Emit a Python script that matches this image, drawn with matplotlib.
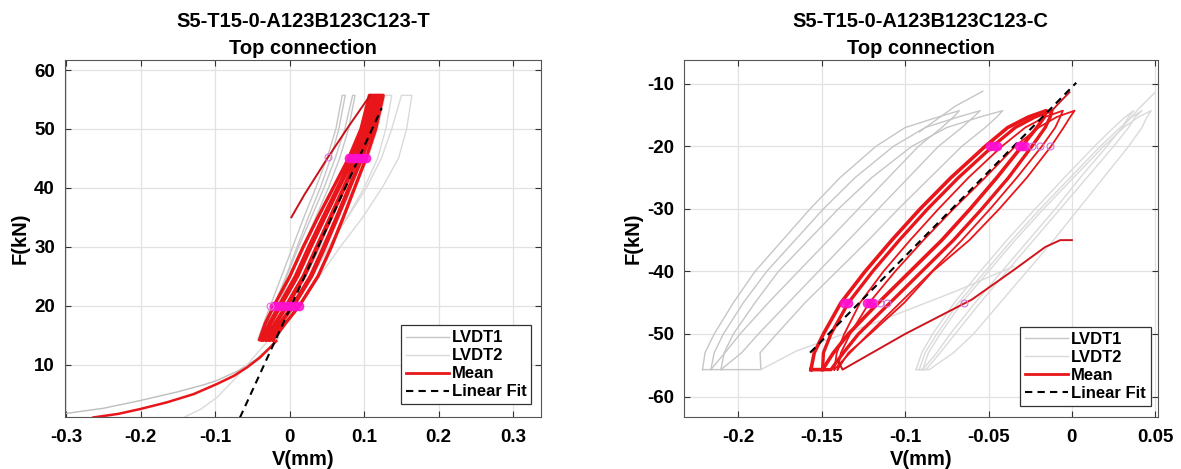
import numpy as np
import matplotlib
matplotlib.use("Agg")
import matplotlib.pyplot as plt
from matplotlib.lines import Line2D

plt.rcParams['font.family'] = ['Liberation Sans', 'DejaVu Sans']
plt.rcParams['font.weight'] = 'bold'
plt.rcParams['axes.labelweight'] = 'bold'
plt.rcParams['axes.titleweight'] = 'bold'

# ---------------- tension test (left panel) ----------------
title_T = "S5-T15-0-A123B123C123-T\nTop connection"
F_T = [14.2, 17, 20, 25, 30, 35, 40, 45, 50, 55.7]

# mean hysteresis loops: rising and returning branch displacement at each force level
mean_T_up = [
    [-0.037, -0.0275, -0.0145, 0.0075, 0.0255, 0.0445, 0.064, 0.0835, 0.0995, 0.1105],
    [-0.032, -0.020, -0.005, 0.018, 0.036, 0.054, 0.072, 0.090, 0.105, 0.1155],
    [-0.0275, -0.0133, 0.0036, 0.0275, 0.0455, 0.0626, 0.0792, 0.0959, 0.110, 0.120],
    [-0.0225, -0.0058, 0.013, 0.038, 0.056, 0.072, 0.0872, 0.1024, 0.1155, 0.1255],
]
mean_T_down = [
    [-0.0405, -0.0328, -0.0212, 0.0002, 0.0182, 0.0379, 0.0584, 0.079, 0.0957, 0.107],
    [-0.0355, -0.0253, -0.0117, 0.0107, 0.0287, 0.0474, 0.0664, 0.0855, 0.1012, 0.112],
    [-0.031, -0.0185, -0.0031, 0.0201, 0.0381, 0.0559, 0.0736, 0.0913, 0.1061, 0.1165],
    [-0.0265, -0.0118, 0.0055, 0.0296, 0.0476, 0.0645, 0.0808, 0.0972, 0.111, 0.121],
]
# initial loading of the mean curve
mean_T_init_V = [-0.2636, -0.23, -0.201, -0.165, -0.129, -0.098, -0.075, -0.0577, -0.04, -0.0264, -0.018]
mean_T_init_F = [1.04, 1.65, 2.46, 3.6, 5.0, 6.7, 8.1, 9.5, 11.2, 12.9, 14.0]
# last reloading branch
mean_T_last_V = [0.0022, 0.02, 0.052, 0.08, 0.108]
mean_T_last_F = [35.0, 38.9, 45.3, 50.6, 55.7]

# LVDT1 loops (left of mean) and its initial loading
lvdt1_T_up = [
    [-0.040, -0.031, -0.021, -0.005, 0.010, 0.025, 0.041, 0.055, 0.066, 0.0745],
    [-0.036, -0.026, -0.016, 0.001, 0.018, 0.035, 0.052, 0.067, 0.079, 0.0877],
]
lvdt1_T_down = [
    [-0.043, -0.035, -0.026, -0.011, 0.004, 0.019, 0.035, 0.050, 0.062, 0.0705],
    [-0.040, -0.030, -0.020, -0.004, 0.012, 0.029, 0.046, 0.061, 0.074, 0.0845],
]
lvdt1_T_init_V = [-0.31, -0.25, -0.201, -0.15, -0.115, -0.098, -0.07, -0.045, -0.025, -0.015]
lvdt1_T_init_F = [1.55, 2.6, 3.9, 5.4, 6.6, 7.3, 8.9, 10.9, 13.2, 14.6]

# LVDT2 loops (right of mean) and its initial loading
lvdt2_T_up = [
    [-0.018, -0.005, 0.012, 0.040, 0.068, 0.098, 0.124, 0.146, 0.157, 0.164],
    [-0.020, -0.008, 0.007, 0.030, 0.053, 0.077, 0.100, 0.118, 0.129, 0.137],
]
lvdt2_T_down = [
    [-0.020, -0.010, 0.004, 0.027, 0.052, 0.078, 0.103, 0.123, 0.137, 0.150],
    [-0.022, -0.012, 0.001, 0.021, 0.042, 0.064, 0.086, 0.105, 0.118, 0.128],
]
lvdt2_T_init_V = [-0.143, -0.12, -0.098, -0.0757, -0.055, -0.035, -0.025]
lvdt2_T_init_F = [1.0, 2.4, 4.4, 7.3, 10.3, 13.2, 14.6]

# linear fit F = k V + b
fit_T_k, fit_T_b = 276.0, 19.45
fit_T_V = [-0.0667, 0.1235]

# markers at 20 kN and 45 kN
mark_T_V = [-0.021, -0.016, -0.011, -0.004, 0.002, 0.007, 0.012,
            0.080, 0.085, 0.089, 0.094, 0.098, 0.102]
mark_T_F = [20, 20, 20, 20, 20, 20, 20, 45, 45, 45, 45, 45, 45]
mark_T_open_V = [-0.026, 0.052]
mark_T_open_F = [20, 45.3]

xticks_T = [-0.3, -0.2, -0.1, 0, 0.1, 0.2, 0.3]
xticklabels_T = ["-0.3", "-0.2", "-0.1", "0", "0.1", "0.2", "0.3"]
yticks_T = [10, 20, 30, 40, 50, 60]
yticklabels_T = ["10", "20", "30", "40", "50", "60"]

# ---------------- compression test (right panel) ----------------
title_C = "S5-T15-0-A123B123C123-C\nTop connection"
F_C = [-55.7, -53, -50, -45, -40, -35, -30, -25, -20, -17, -15.3, -14.3]

mean_C_up = [
    [-0.1565, -0.1545, -0.149, -0.1385, -0.124, -0.108, -0.091, -0.0725, -0.052, -0.0385, -0.026, -0.0154],
    [-0.1495, -0.149, -0.1445, -0.134, -0.1195, -0.1035, -0.0865, -0.068, -0.0475, -0.034, -0.022, -0.012],
    [-0.1425, -0.141, -0.1365, -0.127, -0.113, -0.097, -0.080, -0.062, -0.042, -0.028, -0.016, -0.0054],
    [-0.1405, -0.1385, -0.133, -0.1215, -0.106, -0.089, -0.071, -0.052, -0.034, -0.020, -0.009, 0.0016],
]
mean_C_down = [
    [-0.1495, -0.143, -0.134, -0.116, -0.097, -0.078, -0.061, -0.045, -0.030, -0.021, -0.0165, -0.0154],
    [-0.1445, -0.137, -0.128, -0.109, -0.090, -0.071, -0.054, -0.038, -0.024, -0.016, -0.013, -0.012],
    [-0.1425, -0.133, -0.122, -0.103, -0.084, -0.066, -0.049, -0.033, -0.018, -0.010, -0.007, -0.0054],
    [-0.1405, -0.134, -0.121, -0.1005, -0.0835, -0.0615, -0.0435, -0.027, -0.0125, -0.005, -0.001, 0.0016],
]
mean_C_loop_lw = [2.6, 2.4, 1.3, 1.3]
mean_C_first_V = [-0.0014, -0.006, -0.012]
mean_C_first_F = [-11.35, -12.6, -14.3]
mean_C_last_V = [-0.1405, -0.1375, -0.100, -0.060, -0.035, -0.016, -0.007, 0.0]
mean_C_last_F = [-54.2, -55.7, -50.0, -44.5, -39.8, -36.1, -35.0, -35.0]

lvdt1_C_up = [
    [-0.2215, -0.220, -0.2145, -0.203, -0.190, -0.1735, -0.157, -0.139, -0.1175, -0.100, -0.080, -0.0675],
    [-0.2165, -0.2145, -0.209, -0.197, -0.183, -0.166, -0.149, -0.130, -0.107, -0.088, -0.068, -0.055],
    [-0.2105, -0.2085, -0.203, -0.190, -0.176, -0.158, -0.140, -0.120, -0.096, -0.075, -0.055, -0.0415],
]
lvdt1_C_down = [
    [-0.2165, -0.208, -0.199, -0.182, -0.164, -0.146, -0.128, -0.110, -0.092, -0.078, -0.071, -0.0675],
    [-0.2105, -0.198, -0.188, -0.170, -0.152, -0.134, -0.116, -0.098, -0.080, -0.066, -0.059, -0.055],
    [-0.1865, -0.187, -0.177, -0.160, -0.141, -0.122, -0.104, -0.085, -0.066, -0.052, -0.045, -0.0415],
]
lvdt1_C_first_V = [-0.0535, -0.07, -0.0915]
lvdt1_C_first_F = [-11.2, -13.6, -17.7]
lvdt1_C_last_V = [-0.1865, -0.165, -0.12, -0.069, -0.035]
lvdt1_C_last_F = [-55.7, -52.7, -48.4, -43.1, -39.2]

lvdt2_C_up = [
    [-0.0935, -0.090, -0.0835, -0.0705, -0.055, -0.039, -0.022, -0.0045, 0.0135, 0.025, 0.032, 0.037],
    [-0.0895, -0.086, -0.079, -0.066, -0.050, -0.034, -0.017, 0.001, 0.019, 0.031, 0.040, 0.0476],
    [-0.0915, -0.088, -0.081, -0.068, -0.052, -0.036, -0.019, -0.001, 0.017, 0.029, 0.036, 0.042],
]
lvdt2_C_down = [
    [-0.0895, -0.081, -0.073, -0.058, -0.042, -0.026, -0.010, 0.005, 0.021, 0.030, 0.034, 0.037],
    [-0.0855, -0.071, -0.059, -0.043, -0.027, -0.011, 0.004, 0.019, 0.034, 0.042, 0.045, 0.0476],
    [-0.0875, -0.079, -0.070, -0.055, -0.039, -0.023, -0.007, 0.009, 0.025, 0.034, 0.038, 0.042],
]
lvdt2_C_first_V = [0.0496, 0.040, 0.030]
lvdt2_C_first_F = [-11.45, -14.0, -17.0]

fit_C_k, fit_C_b = 270.4, -10.54
fit_C_V = [-0.157, 0.0026]

mark_C_V = [-0.049, -0.047, -0.045, -0.032, -0.030, -0.028,
            -0.1365, -0.1345, -0.123, -0.121, -0.119]
mark_C_F = [-20, -20, -20, -20, -20, -20, -45, -45, -45, -45, -45]
mark_C_open_V = [-0.024, -0.019, -0.013, -0.115, -0.111, -0.0645]
mark_C_open_F = [-20, -20, -20, -45, -45, -45]

xticks_C = [-0.2, -0.15, -0.1, -0.05, 0, 0.05]
xticklabels_C = ["-0.2", "-0.15", "-0.1", "-0.05", "0", "0.05"]
yticks_C = [-60, -50, -40, -30, -20, -10]
yticklabels_C = ["-60", "-50", "-40", "-30", "-20", "-10"]

# ---------------- styling ----------------
RED = '#e8161b'
RED_THIN = '#cf141c'
GRAY1 = '#c6c6c6'
GRAY2 = '#dadada'
MAG = '#ff10d0'
DASH = (0, (3.5, 2.5))


def loop_xy(up, down, F):
    V = list(up) + list(down)[::-1] + [up[0]]
    FF = list(F) + list(F)[::-1] + [F[0]]
    return V, FF


def draw_loops(ax, ups, downs, F, color, lw, z):
    for i, (u, d) in enumerate(zip(ups, downs)):
        V, FF = loop_xy(u, d, F)
        w = lw[i] if isinstance(lw, (list, tuple)) else lw
        ax.plot(V, FF, color=color, lw=w, zorder=z, solid_joinstyle='round')


def style_axes(ax, xlim, ylim, xt, xtl, yt, ytl, title):
    ax.set_xlim(*xlim)
    ax.set_ylim(*ylim)
    ax.set_xticks(xt)
    ax.set_xticklabels(xtl)
    ax.set_yticks(yt)
    ax.set_yticklabels(ytl)
    ax.tick_params(direction='in', length=4, width=0.8, top=True, right=True,
                   labelsize=13.5, color='#333333')
    ax.tick_params(axis='x', pad=9)
    ax.tick_params(axis='y', pad=7)
    for lab in ax.get_xticklabels() + ax.get_yticklabels():
        lab.set_fontweight('bold')
    ax.grid(True, color='#e2e2e2', lw=0.9, zorder=0)
    ax.set_axisbelow(True)
    for s in ax.spines.values():
        s.set_color('#555555')
        s.set_linewidth(0.8)
    ax.set_xlabel("V(mm)", fontsize=14.5, fontweight='bold', labelpad=3)
    ax.set_ylabel("F(kN)", fontsize=14.5, fontweight='bold', labelpad=3)
    ax.set_title(title, fontsize=14.5, fontweight='bold', linespacing=1.58, pad=4)


def add_legend(ax, anchor):
    handles = [
        Line2D([], [], color=GRAY1, lw=1.0),
        Line2D([], [], color=GRAY2, lw=1.0),
        Line2D([], [], color=RED, lw=2.0),
        Line2D([], [], color='black', lw=1.5, ls=DASH),
    ]
    leg = ax.legend(handles, ["LVDT1", "LVDT2", "Mean", "Linear Fit"],
                    loc='lower right', bbox_to_anchor=anchor, borderaxespad=0,
                    prop={'weight': 'bold', 'size': 12}, fancybox=False,
                    framealpha=1, edgecolor='#333333', handlelength=2.6,
                    handletextpad=0.15, labelspacing=0.18, borderpad=0.3)
    leg.get_frame().set_linewidth(0.9)
    leg.set_zorder(10)


fig = plt.figure(figsize=(11.81, 4.69), dpi=100)
fig.patch.set_facecolor('white')

# ----- left panel -----
axT = fig.add_axes([0.0548, 0.1119, 0.4037, 0.7602])
draw_loops(axT, lvdt1_T_up, lvdt1_T_down, F_T, GRAY1, 1.0, 2)
draw_loops(axT, lvdt2_T_up, lvdt2_T_down, F_T, GRAY2, 1.0, 2)
axT.plot(lvdt1_T_init_V, lvdt1_T_init_F, color='#bdbdbd', lw=1.0, zorder=2)
axT.plot(lvdt2_T_init_V, lvdt2_T_init_F, color=GRAY2, lw=1.0, zorder=2)
draw_loops(axT, mean_T_up, mean_T_down, F_T, RED, 2.4, 3)
axT.plot(mean_T_init_V, mean_T_init_F, color=RED, lw=1.8, zorder=3)
axT.plot(mean_T_last_V, mean_T_last_F, color='#c8101a', lw=1.4, zorder=3)
fvT = np.array(fit_T_V)
axT.plot(fvT, fit_T_k * fvT + fit_T_b, color='black', lw=1.5, ls=DASH, zorder=4)
axT.plot(mark_T_V, mark_T_F, 'o', color=MAG, ms=6, mec=MAG, alpha=0.85, zorder=5)
axT.plot(mark_T_open_V, mark_T_open_F, 'o', mfc='none', mec='#e070e0', ms=5,
         mew=0.8, zorder=5)
style_axes(axT, (-0.302, 0.338), (1.2, 61.7), xticks_T, xticklabels_T,
           yticks_T, yticklabels_T, title_T)
add_legend(axT, (0.979, 0.034))

# ----- right panel -----
axC = fig.add_axes([0.5789, 0.1119, 0.4016, 0.7602])
draw_loops(axC, lvdt1_C_up, lvdt1_C_down, F_C, GRAY1, 1.0, 2)
axC.plot(lvdt1_C_first_V, lvdt1_C_first_F, color=GRAY1, lw=1.0, zorder=2)
axC.plot(lvdt1_C_last_V, lvdt1_C_last_F, color=GRAY2, lw=1.0, zorder=2)
draw_loops(axC, lvdt2_C_up, lvdt2_C_down, F_C, GRAY2, 1.0, 2)
axC.plot(lvdt2_C_first_V, lvdt2_C_first_F, color=GRAY2, lw=1.0, zorder=2)
draw_loops(axC, mean_C_up, mean_C_down, F_C, RED, mean_C_loop_lw, 3)
axC.plot(mean_C_first_V, mean_C_first_F, color=RED_THIN, lw=1.3, zorder=3)
axC.plot(mean_C_last_V, mean_C_last_F, color=RED_THIN, lw=1.4, zorder=3)
fvC = np.array(fit_C_V)
axC.plot(fvC, fit_C_k * fvC + fit_C_b, color='black', lw=1.5, ls=DASH, zorder=4)
axC.plot(mark_C_V, mark_C_F, 'o', color=MAG, ms=6, mec=MAG, alpha=0.85, zorder=5)
axC.plot(mark_C_open_V, mark_C_open_F, 'o', mfc='none', mec='#d070e0', ms=5,
         mew=0.8, zorder=5)
style_axes(axC, (-0.2328, 0.0516), (-63.2, -6.2), xticks_C, xticklabels_C,
           yticks_C, yticklabels_C, title_C)
add_legend(axC, (0.9846, 0.0295))

fig.savefig("out.png", dpi=100, facecolor='white')
